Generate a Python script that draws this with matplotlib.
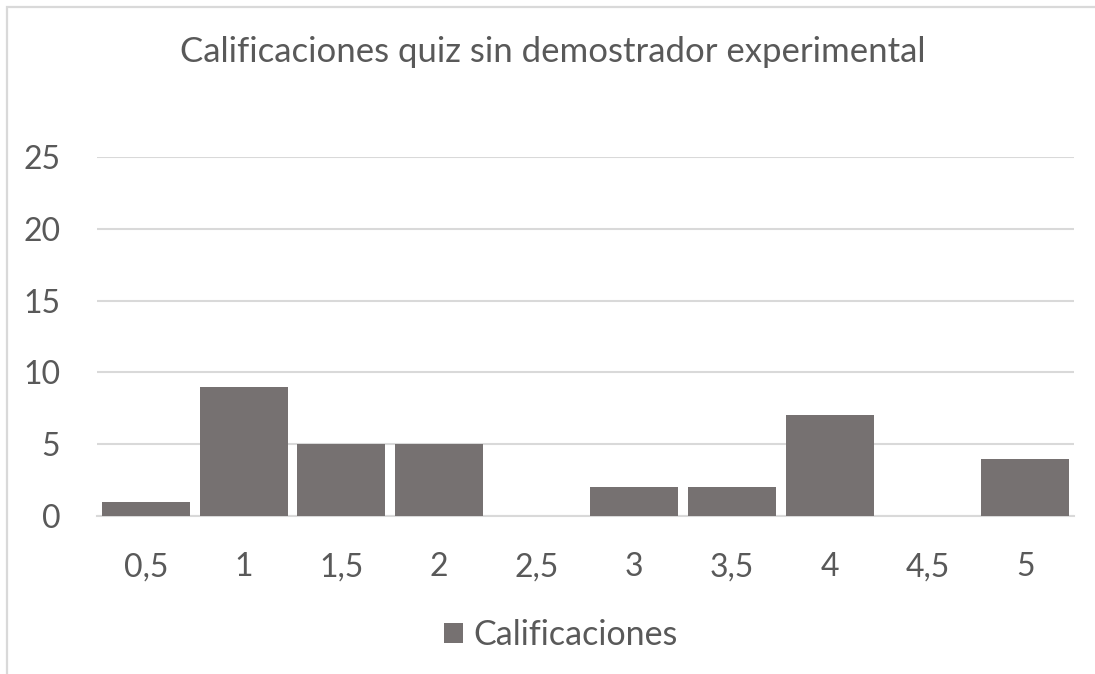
import matplotlib
matplotlib.use("Agg")
import matplotlib.pyplot as plt
from matplotlib.patches import Rectangle, Patch

categories = ["0,5", "1", "1,5", "2", "2,5", "3", "3,5", "4", "4,5", "5"]
values = [1, 9, 5, 5, 0, 2, 2, 7, 0, 4]
yticks = [0, 5, 10, 15, 20, 25]
title = "Calificaciones quiz sin demostrador experimental"
series_name = "Calificaciones"

W, H = 1095, 674
plt.rcParams['font.family'] = ['Lato', 'DejaVu Sans']
txt = "#595959"
bar_color = "#767171"
grid_color = "#d9d9d9"

fig = plt.figure(figsize=(W / 100, H / 100), dpi=100)
fig.patch.set_facecolor("white")

# chart border (only left and top visible in reference)
fig.add_artist(Rectangle((7 / W, -0.1), 1.2, 1.1 - 7 / H,
                         transform=fig.transFigure, fill=False,
                         edgecolor=grid_color, linewidth=1.6))

ax = fig.add_axes([97 / W, 1 - 516 / H, (1074 - 97) / W, (516 - 157) / H])
x = list(range(len(categories)))
ax.bar(x, values, width=0.9, color=bar_color, zorder=3, label=series_name)
ax.set_xlim(-0.5, len(categories) - 0.5)
ax.set_ylim(0, 25)
ax.set_yticks(yticks)
ax.set_xticks(x)
ax.set_xticklabels(categories)
ax.yaxis.grid(True, color=grid_color, linewidth=1.5, zorder=0)
ax.set_axisbelow(True)
for s in ["top", "right", "left"]:
    ax.spines[s].set_visible(False)
ax.spines["bottom"].set_color(grid_color)
ax.spines["bottom"].set_linewidth(1.5)
ax.tick_params(axis="both", length=0, labelsize=23, labelcolor=txt)
ax.tick_params(axis="x", pad=26)
ax.tick_params(axis="y", pad=26.5)

fig.text(553 / W, 1 - 52 / H, title, ha="center", va="center",
         fontsize=25, color=txt)

handles = [Patch(facecolor=bar_color, edgecolor="none")]
fig.legend(handles, [series_name], loc="center", bbox_to_anchor=(561 / W, 1 - 635 / H),
           frameon=False, fontsize=24.5, labelcolor=txt, handlelength=0.55,
           handleheight=0.55, handletextpad=0.3)

fig.savefig("out.png", dpi=100, facecolor="white")
